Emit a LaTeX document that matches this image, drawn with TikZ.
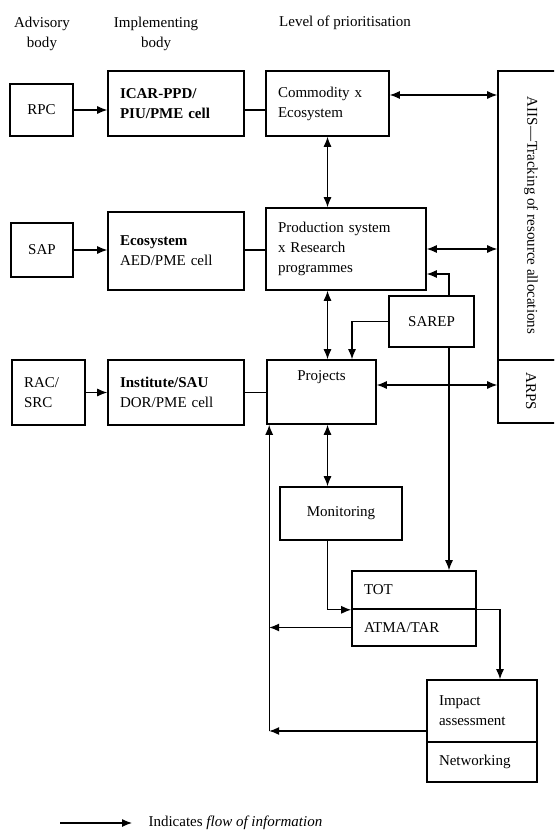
\documentclass[tikz,border=0pt]{standalone}
\usepackage{fontspec}
\setmainfont{Liberation Serif}
\usetikzlibrary{arrows.meta}

\begin{document}
\begin{tikzpicture}[x=1pt, y=1pt, >={Latex[length=10pt,width=8pt]},
    font=\fontsize{15}{20}\selectfont]
    \tikzstyle{blk}=[draw, line width=1.6pt, inner sep=0pt, align=center]
    \tikzstyle{lft}=[blk, align=left, inner xsep=12pt]
    \tikzstyle{flow}=[line width=1.1pt]
    \useasboundingbox (0,0) rectangle (554,-832);
    \clip (0,0) rectangle (554,-832);

    \node[align=center] (hadv) at (42,-34) {Advisory\\body};
    \node[align=center] (himp) at (156,-34) {Implementing\\body};
    \node (hlev) at (345,-23) {Level of prioritisation};

    \node[blk, minimum width=63, minimum height=52] (rpc) at (41.5,-110) {RPC};
    \node[lft, text width=112, minimum height=65] (icar) at (176,-103.5) {\textbf{ICAR-PPD/}\\\textbf{PIU/PME cell}};
    \node[lft, text width=99, minimum height=65] (comm) at (327.5,-103.5) {Commodity x\\Ecosystem};
    \node[blk, minimum width=66, minimum height=289] (aiis) at (531,-215.5) {};
    \node[rotate=-90] (aiistxt) at (aiis) {AIIS---Tracking of resource allocations};
    \node[blk, minimum width=66, minimum height=63] (arps) at (531,-391.5) {};
    \node[rotate=-90] (arpstxt) at (arps) {ARPS};

    \node[blk, minimum width=62, minimum height=54] (sap) at (42,-250) {SAP};
    \node[lft, text width=112, minimum height=78] (eco) at (176,-251) {\textbf{Ecosystem}\\AED/PME cell};
    \node[lft, text width=136, minimum height=82] (prod) at (346,-249) {Production system\\x Research\\programmes};
    \node[blk, minimum width=85, minimum height=51] (sarep) at (431.5,-321.5) {SAREP};

    \node[lft, text width=49, minimum height=65] (rac) at (48.5,-392.5) {RAC/\\SRC};
    \node[lft, text width=112, minimum height=65] (inst) at (176,-392.5) {\textbf{Institute/SAU}\\DOR/PME cell};
    \node[blk, minimum width=109, minimum height=64] (proj) at (321.5,-392) {};
    \node[below] (projtxt) at ([yshift=-8]proj.north) {Projects};
    \node[blk, minimum width=122, minimum height=53] (mon) at (341,-513.5) {Monitoring};

    \node[lft, text width=100, minimum height=38] (tot) at (414,-590) {TOT};
    \node[lft, text width=100, minimum height=37] (atma) at (414,-627.5) {ATMA/TAR};
    \node[lft, text width=86, minimum height=62] (imp) at (482,-711) {Impact\\assessment};
    \node[lft, text width=86, minimum height=40] (net) at (482,-762) {Networking};

    \draw[flow, ->] (rpc.east) -- (rpc.east -| icar.west);
    \draw[flow] (rpc.east -| icar.east) -- (rpc.east -| comm.west);
    \draw[flow, <->] ([yshift=8.5]comm.east) -- ([yshift=8.5]comm.east -| aiis.west);
    \draw[flow, <->] (comm.south) -- (comm.south |- prod.north);

    \draw[flow, ->] (sap.east) -- (sap.east -| eco.west);
    \draw[flow] (sap.east -| eco.east) -- (sap.east -| prod.west);
    \draw[flow, <->] (prod.east) -- (prod.east -| aiis.west);
    \draw[flow, ->] ([xshift=17.5]sarep.north) |- ([yshift=-25]prod.east);
    \draw[flow, ->] ([xshift=17.5]sarep.south) -- ([xshift=17.5]sarep.south |- tot.north);

    \draw[flow, <->] (comm.south |- prod.south) -- (comm.south |- proj.north);
    \draw[flow, ->] (sarep.west) -| ([xshift=30.5]proj.north);
    \draw[flow, ->] (rac) -- (inst);
    \draw[flow] (inst.east) -- (inst.east -| proj.west);
    \draw[flow, <->] ([yshift=7]proj.east) -- ([yshift=7]proj.east -| arps.west);
    \draw[flow, <->] (comm.south |- proj.south) -- (comm.south |- mon.north);

    \draw[flow, ->] (comm.south |- mon.south) |- (tot.south west);
    \draw[flow, ->] (tot.south east) -| ([xshift=18]imp.north);
    \coordinate (impout) at ([yshift=-20]imp.west);
    \coordinate (fbtop) at ([xshift=3]proj.south west);
    \coordinate (fbmid) at (fbtop |- atma.west);
    \coordinate (fbbot) at (fbtop |- impout);
    \draw[flow, ->] (atma.west) -- (fbmid);
    \draw[flow, ->] (impout) -- (fbbot);
    \draw[flow, ->] (fbbot) -- (fbtop);

    \coordinate (keyl) at (60,-823);
    \node[anchor=west] (keytxt) at (145,-823) {Indicates \textit{flow of information}};
    \draw[flow, ->] (keyl) -- ([xshift=-13]keytxt.west);
\end{tikzpicture}
\end{document}
